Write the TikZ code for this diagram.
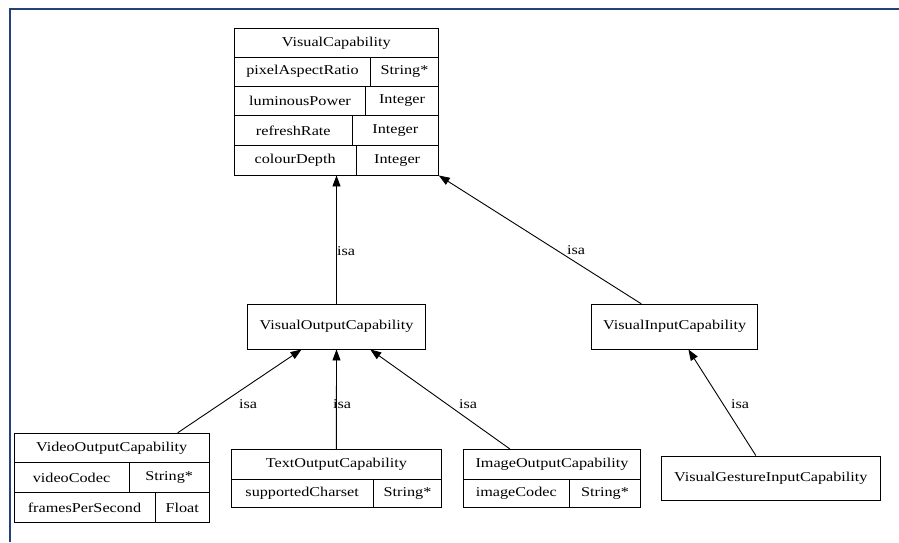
\documentclass[tikz,border=0pt]{standalone}
\usepackage{fontspec}
\setmainfont{Liberation Serif}[FakeStretch=1.2]
\usetikzlibrary{arrows.meta,calc}

\definecolor{framenavy}{RGB}{38,64,122}
\tikzset{
    cell/.style={draw, line width=0.9pt, inner sep=0pt, font=\fontsize{13.5pt}{16pt}\selectfont},
    isa/.style={inner sep=0pt, font=\fontsize{13.5pt}{16pt}\selectfont},
    edge/.style={->, >={Triangle[length=11pt,width=8pt]}, line width=0.9pt},
}
% one record cell: name, x1, y1, x2, y2, text
\newcommand{\cellbox}[6]{%
    \node (#1) [cell, minimum width={(#4-#2)*1pt}, minimum height={(#5-#3)*1pt}]
        at ({(#2+#4)/2},{(#3+#5)/2}) {#6};}

\begin{document}
\begin{tikzpicture}[x=1pt, y=-1pt]
    \useasboundingbox [fill=white] (0,0) rectangle (899,542);
    \draw [framenavy, line width=2pt] (10,542) -- (10,9) -- (899,9);

    % VisualCapability
    \cellbox{vc}{234.3}{28.3}{438.3}{57.3}{VisualCapability}
    \cellbox{par}{234.3}{57.3}{370.7}{86}{pixelAspectRatio}
    \cellbox{part}{370.7}{57.3}{438.3}{86}{String*}
    \cellbox{lum}{234.3}{86}{365.7}{115.7}{luminousPower}
    \cellbox{lumt}{365.7}{86}{438.3}{115.7}{Integer}
    \cellbox{ref}{234.3}{115.7}{352.3}{145.3}{refreshRate}
    \cellbox{reft}{352.3}{115.7}{438.3}{145.3}{Integer}
    \cellbox{cd}{234.3}{145.3}{356}{175}{colourDepth}
    \cellbox{cdt}{356}{145.3}{438.3}{175}{Integer}

    % second level
    \cellbox{voc}{247.3}{304.3}{425.7}{349}{VisualOutputCapability}
    \cellbox{vic}{591.7}{304.3}{757.7}{349}{VisualInputCapability}

    % VideoOutputCapability
    \cellbox{vid}{14}{433.3}{209.3}{462.3}{VideoOutputCapability}
    \cellbox{vcod}{14}{462.3}{129}{492.7}{videoCodec}
    \cellbox{vcodt}{129}{462.3}{209.3}{492.7}{String*}
    \cellbox{fps}{14}{492.7}{155}{522.3}{framesPerSecond}
    \cellbox{fpst}{155}{492.7}{209.3}{522.3}{Float}

    % TextOutputCapability
    \cellbox{txt}{231}{449.3}{441.7}{479}{TextOutputCapability}
    \cellbox{chs}{231}{479}{373.3}{507.3}{supportedCharset}
    \cellbox{chst}{373.3}{479}{441.7}{507.3}{String*}

    % ImageOutputCapability
    \cellbox{img}{463.3}{449.3}{640.7}{479}{ImageOutputCapability}
    \cellbox{icod}{463.3}{479}{569.3}{507.3}{imageCodec}
    \cellbox{icodt}{569.3}{479}{640.7}{507.3}{String*}

    \cellbox{vgi}{661}{456}{880.7}{500}{VisualGestureInputCapability}

    % isa edges
    \draw [edge] (voc.north) -- (voc.north |- cd.south);
    \draw [edge] ($(vic.north west)!0.3!(vic.north east)$) -- (cdt.south east);
    \draw [edge] ($(vid.north west)!0.836!(vid.north east)$) -- ($(voc.south west)!0.305!(voc.south east)$);
    \draw [edge] (txt.north) -- (voc.south);
    \draw [edge] ($(img.north west)!0.263!(img.north east)$) -- ($(voc.south west)!0.688!(voc.south east)$);
    \draw [edge] ($(vgi.north west)!0.432!(vgi.north east)$) -- ($(vic.south west)!0.582!(vic.south east)$);

    \node (isa1) [isa] at (346,251) {isa};
    \node (isa2) [isa] at (576,250) {isa};
    \node (isa3) [isa] at (248,404) {isa};
    \node (isa4) [isa] at (342,404) {isa};
    \node (isa5) [isa] at (468,404) {isa};
    \node (isa6) [isa] at (740,404) {isa};
\end{tikzpicture}
\end{document}
